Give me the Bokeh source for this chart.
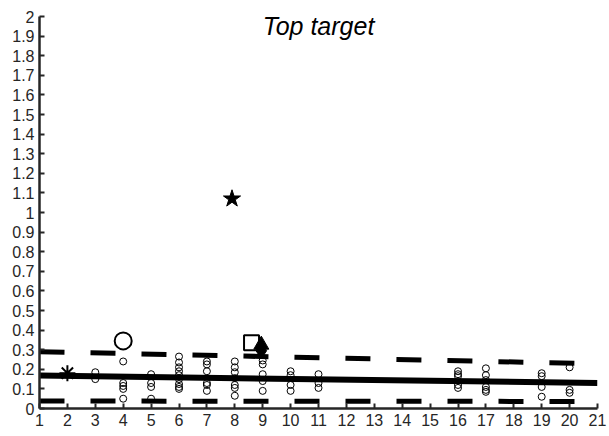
from bokeh.plotting import figure
from bokeh.models import FixedTicker, CustomJSTickFormatter, Label, Range1d
from bokeh.embed import file_html
from bokeh.resources import INLINE

# ---- data ----
title_text = "Top target"

scatter_x = ([3] * 2 + [4] * 5 + [5] * 4 + [6] * 9 + [7] * 6 + [8] * 7 + [9] * 5 +
             [10] * 4 + [11] * 3 + [16] * 5 + [17] * 6 + [19] * 4 + [20] * 3)
scatter_y = [0.185, 0.15,
             0.24, 0.13, 0.115, 0.10, 0.05,
             0.175, 0.13, 0.11, 0.05,
             0.265, 0.235, 0.21, 0.19, 0.17, 0.15, 0.125, 0.11, 0.10,
             0.24, 0.225, 0.19, 0.13, 0.12, 0.09,
             0.24, 0.21, 0.185, 0.155, 0.12, 0.105, 0.065,
             0.245, 0.225, 0.175, 0.14, 0.09,
             0.19, 0.17, 0.12, 0.09,
             0.175, 0.13, 0.105,
             0.19, 0.175, 0.165, 0.12, 0.105,
             0.205, 0.17, 0.145, 0.11, 0.095, 0.085,
             0.18, 0.165, 0.11, 0.06,
             0.21, 0.095, 0.08]

fit_x = [1, 21]
fit_y = [0.168, 0.130]
upper_y = [0.290, 0.228]
lower_y = [0.038, 0.036]

star_x, star_y = [7.9], [1.07]
asterisk_x, asterisk_y = [2], [0.18]
bigcircle_x, bigcircle_y = [4], [0.345]
square_x, square_y = [8.6], [0.335]
triangle_x, triangle_y = [8.95], [0.325]
diamond_x, diamond_y = [8.95], [0.295]

x_ticks = list(range(1, 22))
y_ticks = [round(i * 0.1, 1) for i in range(21)]

# ---- figure ----
p = figure(width=609, height=436, output_backend="svg", toolbar_location=None,
           x_range=Range1d(1, 21), y_range=Range1d(0, 2),
           min_border_left=39, min_border_right=12, min_border_top=16, min_border_bottom=28)
p.outline_line_color = None
p.xgrid.visible = False
p.ygrid.visible = False
p.background_fill_color = "white"
p.border_fill_color = "white"

axc = "#262626"
for ax in (p.xaxis[0], p.yaxis[0]):
    ax.axis_line_color = axc
    ax.axis_line_width = 2.5
    ax.major_tick_line_color = axc
    ax.major_tick_line_width = 2
    ax.major_tick_in = 5
    ax.major_tick_out = 0
    ax.minor_tick_line_color = None
    ax.major_label_text_font = "Liberation Sans"
    ax.major_label_text_font_size = "16px"
    ax.major_label_text_color = axc
    ax.major_label_standoff = 5

p.xaxis[0].ticker = FixedTicker(ticks=x_ticks)
p.yaxis[0].ticker = FixedTicker(ticks=y_ticks)
p.xaxis[0].formatter = CustomJSTickFormatter(code="return (Math.round(tick*10)/10).toString();")
p.yaxis[0].formatter = CustomJSTickFormatter(code="return (Math.round(tick*10)/10).toString();")

# lines
p.line(fit_x, fit_y, line_color="black", line_width=6)
p.line(fit_x, upper_y, line_color="black", line_width=5, line_dash="25 26", line_cap="butt")
p.line(fit_x, lower_y, line_color="black", line_width=5, line_dash="25 26", line_cap="butt")

# scatter
p.scatter(scatter_x, scatter_y, marker="circle", size=7, fill_color="white", fill_alpha=0,
          line_color="black", line_width=1)

# special markers
p.scatter(star_x, star_y, marker="star", size=18, fill_color="black", line_color="black")
p.scatter(asterisk_x, asterisk_y, marker="asterisk", size=16, line_color="black", line_width=2)
p.scatter(bigcircle_x, bigcircle_y, marker="circle", size=17, fill_alpha=0,
          line_color="black", line_width=2)
p.scatter(square_x, square_y, marker="square", size=15, fill_alpha=0,
          line_color="black", line_width=2)
p.scatter(diamond_x, diamond_y, marker="diamond", size=16, fill_color="black", line_color="black")
p.scatter(triangle_x, triangle_y, marker="triangle", size=15, fill_color="black", line_color="black")

p.add_layout(Label(x=11, y=1.95, text=title_text, text_align="center", text_baseline="middle",
                   text_font="Liberation Sans", text_font_style="italic",
                   text_font_size="25px", text_color="black"))

open("out.html", "w").write(file_html(p, INLINE))
